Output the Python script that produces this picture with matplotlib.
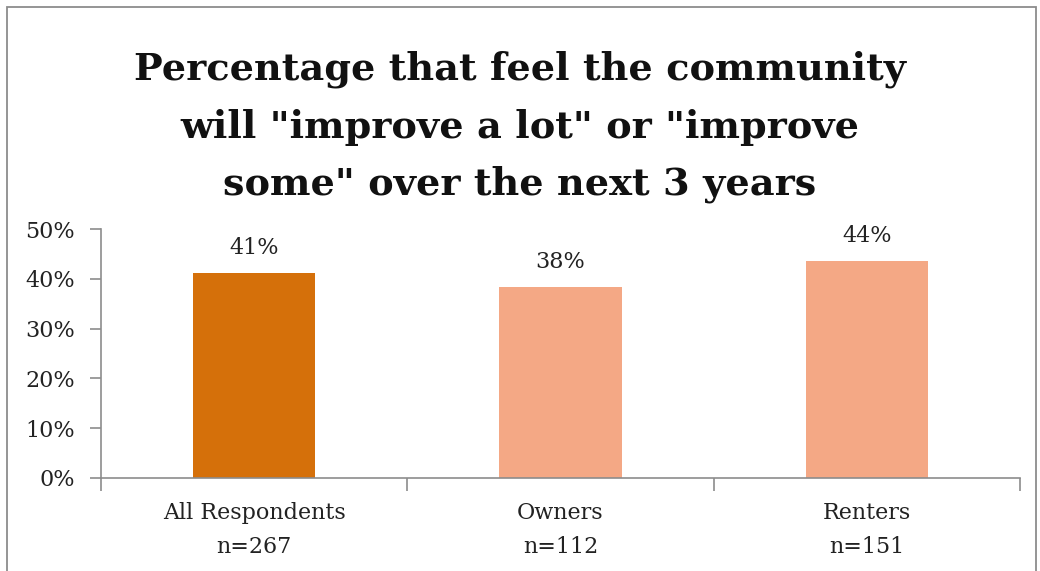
import matplotlib
matplotlib.use("Agg")
import matplotlib.pyplot as plt
from matplotlib.patches import Rectangle
from matplotlib.ticker import FuncFormatter, MultipleLocator

categories = ["All Respondents\nn=267", "Owners\nn=112", "Renters\nn=151"]
values = [41.2, 38.3, 43.6]
colors = ["#D5700A", "#F4A885", "#F4A885"]
title = 'Percentage that feel the community\nwill "improve a lot" or "improve\nsome" over the next 3 years'

plt.rcParams["font.family"] = ["DejaVu Serif"]

fig = plt.figure(figsize=(10.4, 5.71), dpi=100)
ax = fig.add_axes([101 / 1040, 1 - 478 / 571, (1020 - 101) / 1040, (478 - 229) / 571])

x = range(len(categories))
bars = ax.bar(x, values, width=0.4, color=colors, zorder=2)
for rect, v in zip(bars, values):
    ax.text(rect.get_x() + rect.get_width() / 2, v + 5.0, f"{v:.0f}%",
            ha="center", va="center", fontsize=16, color="#222222")

ax.set_xlim(-0.5, len(categories) - 0.5)
ax.set_ylim(0, 50)
ax.yaxis.set_major_locator(MultipleLocator(10))
ax.yaxis.set_major_formatter(FuncFormatter(lambda v, p: f"{v:.0f}%"))
ax.set_xticks(list(x))
ax.set_xticklabels(categories, fontsize=16, linespacing=1.75, color="#222222")
ax.tick_params(axis="x", length=0, pad=17)
ax.tick_params(axis="y", length=8, width=1.2, color="#8c8c8c", labelsize=16, pad=11,
               labelcolor="#222222")
# category boundary ticks on the x axis
ax.set_xticks([i - 0.5 for i in range(len(categories) + 1)], minor=True)
ax.tick_params(axis="x", which="minor", length=9, width=1.2, color="#8c8c8c", direction="out")

for side in ("top", "right"):
    ax.spines[side].set_visible(False)
for side in ("left", "bottom"):
    ax.spines[side].set_color("#8c8c8c")
    ax.spines[side].set_linewidth(1.2)

fig.text(0.5, 1 - 127 / 571, title, ha="center", va="center", fontsize=27.5,
         fontweight="bold", linespacing=1.7, color="#111111")

# outer chart frame
fig.patches.append(Rectangle((7 / 1040, -0.01), 1 - 11 / 1040, 1.01 - 7 / 571,
                             transform=fig.transFigure, fill=False,
                             edgecolor="#8c8c8c", linewidth=1.3))

fig.savefig("out.png", dpi=100)
